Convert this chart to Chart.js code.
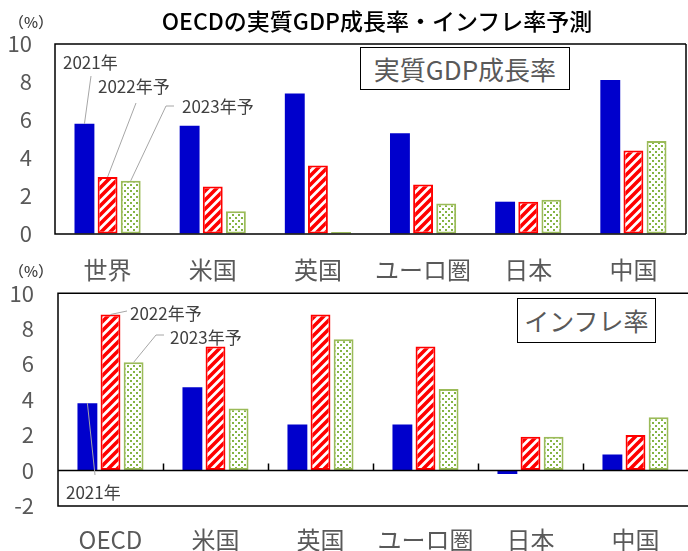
<!DOCTYPE html>
<html lang="ja">
<head>
<meta charset="utf-8">
<title>OECDの実質GDP成長率・インフレ率予測</title>
<script src="https://cdn.jsdelivr.net/npm/chart.js@4/dist/chart.umd.min.js"></script>
<style>
  body { margin: 0; background: #fff; font-family: "Noto Sans CJK JP", sans-serif; }
  #wrap { position: relative; width: 688px; height: 551px; overflow: hidden; }
  canvas { position: absolute; left: 0; }
  #cTop { top: 0; }
  #cBot { top: 280px; }
  .txt { position: absolute; white-space: nowrap; line-height: 1; }
  #title { left: 377px; top: 9px; font-size: 23px; font-weight: 500; color: #000; transform: translateX(-50%); }
  .unit { font-size: 15px; font-weight: 500; color: #404040; }
  .boxlbl { border: 1.5px solid #000; color: #595959; font-size: 26px; display: flex; align-items: center; justify-content: center; background: #fff; }
</style>
</head>
<body>
<div id="wrap">
  <canvas id="cTop" width="688" height="290"></canvas>
  <canvas id="cBot" width="688" height="271"></canvas>
  <div id="title" class="txt">OECDの実質GDP成長率・インフレ率予測</div>
  <div class="txt unit" style="left:9px;top:14px;">（%）</div>
  <div class="txt unit" style="left:9px;top:263px;">（%）</div>
  <div class="txt boxlbl" style="left:360px;top:47px;width:208px;height:41px;">実質GDP成長率</div>
  <div class="txt boxlbl" style="left:517px;top:298px;width:137px;height:43px;font-size:25px;">インフレ率</div>
</div>
<script>
// 実質GDP成長率 (%)
const gdpCategories = ['世界', '米国', '英国', 'ユーロ圏', '日本', '中国'];
const gdp2021 = [5.8, 5.7, 7.4, 5.3, 1.7, 8.1];
const gdp2022 = [3.0, 2.5, 3.6, 2.6, 1.7, 4.4];
const gdp2023 = [2.8, 1.2, 0.0, 1.6, 1.8, 4.9];
const gdpTicks = [0, 10, 2];

// インフレ率 (%)
const infCategories = ['OECD', '米国', '英国', 'ユーロ圏', '日本', '中国'];
const inf2021 = [3.8, 4.7, 2.6, 2.6, -0.2, 0.9];
const inf2022 = [8.8, 7.0, 8.8, 7.0, 1.9, 2.0];
const inf2023 = [6.1, 3.5, 7.4, 4.6, 1.9, 3.0];
const infTicks = [-2, 10, 2];

const seriesNames = ['2021年', '2022年予', '2023年予'];

const FONT = '"Noto Sans CJK JP", sans-serif';
const BLUE = '#0000CC', RED = '#FF0000', GREEN = '#9BBB59';

// 斜線（赤）
function stripePattern() {
  const n = 9, c = document.createElement('canvas');
  c.width = n; c.height = n;
  const g = c.getContext('2d');
  g.fillStyle = '#fff'; g.fillRect(0, 0, n, n);
  g.strokeStyle = RED; g.lineWidth = 3.6;
  g.beginPath();
  g.moveTo(-2, n + 2); g.lineTo(n + 2, -2);
  g.moveTo(-3, 3); g.lineTo(3, -3);
  g.moveTo(n - 3, n + 3); g.lineTo(n + 3, n - 3);
  g.stroke();
  return g.createPattern(c, 'repeat');
}

// ドット（緑）
function dotPattern() {
  const c = document.createElement('canvas');
  c.width = 6; c.height = 6;
  const g = c.getContext('2d');
  g.fillStyle = '#fff'; g.fillRect(0, 0, 6, 6);
  g.fillStyle = '#84B443';
  g.fillRect(1, 1, 2, 2);
  g.fillRect(4, 4, 2, 2);
  return g.createPattern(c, 'repeat');
}

// 枠線・ゼロ線・引き出し線
const framePlugin = {
  id: 'frame',
  afterDatasetsDraw(chart, args, opts) {
    const { ctx, chartArea: a, scales: { y } } = chart;
    ctx.save();
    ctx.strokeStyle = '#000';
    ctx.lineWidth = 1.5;
    ctx.beginPath();
    ctx.moveTo(a.right, a.top); ctx.lineTo(a.left, a.top);
    ctx.lineTo(a.left, a.bottom); ctx.lineTo(a.right, a.bottom);
    if (opts.rightEdge) { ctx.moveTo(a.right, a.top); ctx.lineTo(a.right, a.bottom); }
    const y0 = y.getPixelForValue(0);
    ctx.moveTo(a.left, y0); ctx.lineTo(a.right, y0);
    ctx.stroke();
    if (opts.catTicks) {
      const n = chart.data.labels.length, w = (a.right - a.left) / n;
      ctx.beginPath();
      for (let i = 1; i < n; i++) {
        const x = Math.round(a.left + i * w) + 0.5;
        ctx.moveTo(x, y0); ctx.lineTo(x, y0 - 7);
      }
      ctx.stroke();
    }
    (opts.notes || []).forEach(nt => {
      const bar = chart.getDatasetMeta(nt.ds).data[0];
      ctx.strokeStyle = '#A6A6A6';
      ctx.lineWidth = 1;
      ctx.beginPath();
      ctx.moveTo(nt.path[0][0], nt.path[0][1]);
      nt.path.slice(1).forEach(p => ctx.lineTo(p[0], p[1]));
      ctx.lineTo(bar.x, bar.y);
      ctx.stroke();
      ctx.fillStyle = '#404040';
      ctx.font = '17px ' + FONT;
      ctx.textBaseline = 'middle';
      ctx.textAlign = 'left';
      ctx.fillText(seriesNames[nt.ds], nt.tx, nt.ty);
    });
    ctx.restore();
  }
};

function makeChart(id, labels, s1, s2, s3, ticks, dims, frameOpts) {
  return new Chart(document.getElementById(id), {
    type: 'bar',
    data: {
      labels,
      datasets: [
        { label: seriesNames[0], data: s1, backgroundColor: BLUE, borderWidth: 0 },
        { label: seriesNames[1], data: s2, backgroundColor: stripePattern(), borderColor: RED, borderWidth: 2, borderSkipped: false },
        { label: seriesNames[2], data: s3, backgroundColor: dotPattern(), borderColor: GREEN, borderWidth: 2, borderSkipped: false, minBarLength: 2 }
      ]
    },
    options: {
      responsive: false,
      animation: false,
      datasets: { bar: { categoryPercentage: 0.66, barPercentage: 0.86 } },
      layout: { padding: { top: dims.top, right: dims.right, left: 0, bottom: 0 } },
      plugins: { legend: { display: false }, tooltip: { enabled: false }, frame: frameOpts },
      scales: {
        x: {
          grid: { display: false, drawTicks: false },
          border: { display: false },
          ticks: { font: { family: FONT, size: 24 }, color: '#595959', padding: dims.xPad, maxRotation: 0, autoSkip: false },
          afterFit(s) { s.height = dims.xh; }
        },
        y: {
          min: ticks[0], max: ticks[1],
          // 目盛線は透明にして、ラベルと枠の間隔だけに使う
          grid: { drawOnChartArea: false, drawTicks: true, tickLength: dims.yPad, color: 'rgba(0,0,0,0)' },
          border: { display: false },
          ticks: { stepSize: ticks[2], font: { family: FONT, size: 22 }, color: '#595959', padding: 0 },
          afterFit(s) { s.width = dims.yw; }
        }
      }
    },
    plugins: [framePlugin]
  });
}

makeChart('cTop', gdpCategories, gdp2021, gdp2022, gdp2023, gdpTicks,
  { top: 44, right: 2, xh: 56, yw: 55, xPad: 21, yPad: 23 },
  { rightEdge: true, catTicks: false, notes: [
    { ds: 0, tx: 63, ty: 63, path: [[91, 76]] },
    { ds: 1, tx: 98, ty: 87, path: [[136, 103]] },
    { ds: 2, tx: 182, ty: 107, path: [[174, 106], [166, 106]] }
  ] });

makeChart('cBot', infCategories, inf2021, inf2022, inf2023, infTicks,
  { top: 12, right: 0, xh: 45, yw: 58, xPad: 19, yPad: 24 },
  { rightEdge: false, catTicks: true, notes: [
    { ds: 1, tx: 130, ty: 34, path: [[127, 31]] },
    { ds: 2, tx: 170, ty: 58, path: [[164, 55], [156, 55]] },
    { ds: 0, tx: 66, ty: 213, path: [[95, 195]] }
  ] });
</script>
</body>
</html>
